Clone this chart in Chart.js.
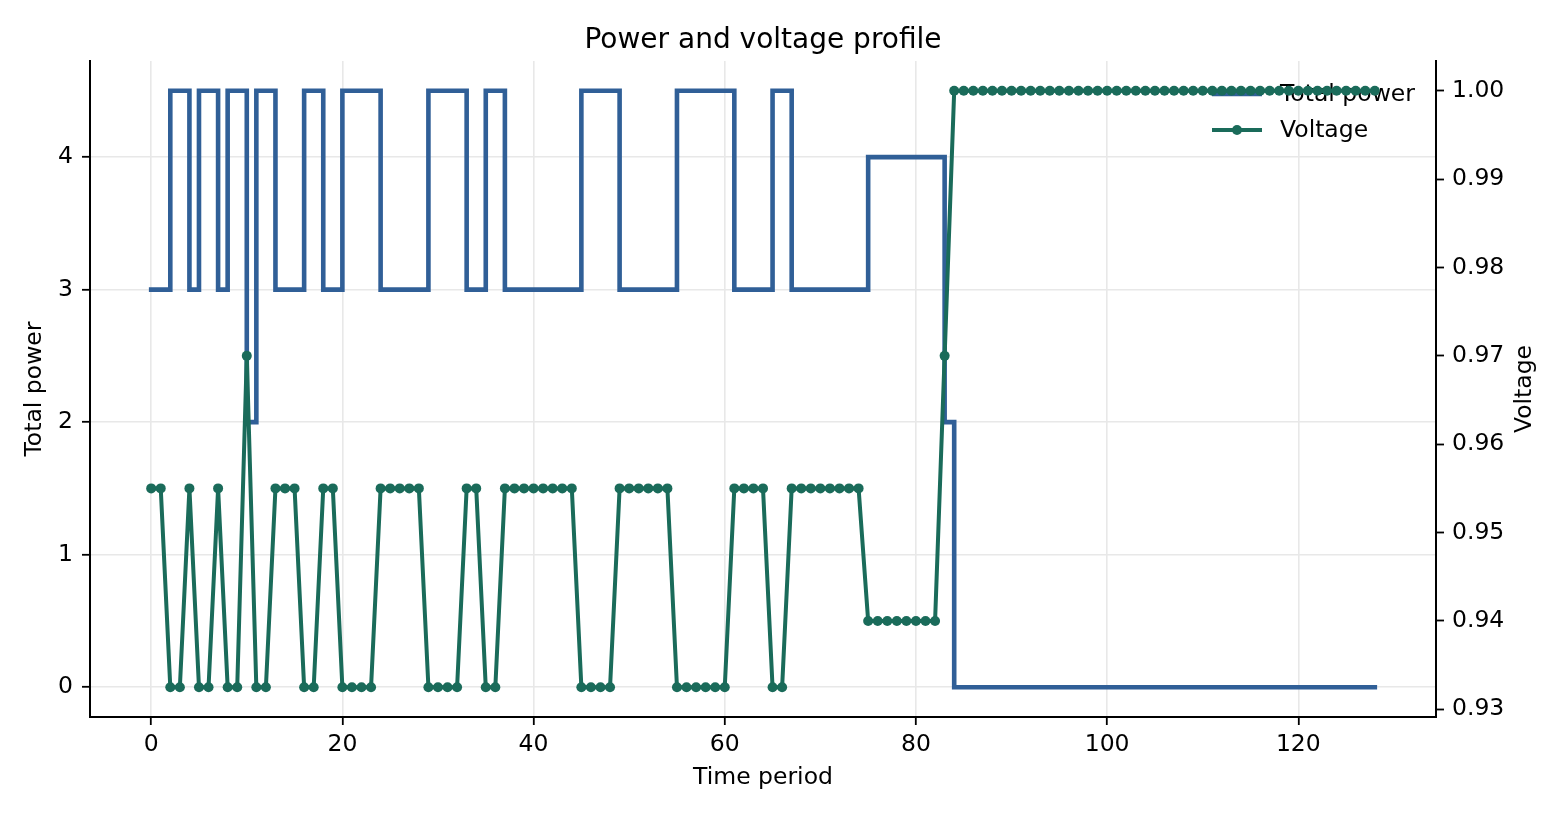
<!DOCTYPE html>
<html>
<head>
<meta charset="utf-8">
<title>Power and voltage profile</title>
<script src="https://cdn.jsdelivr.net/npm/chart.js@4.4.1/dist/chart.umd.min.js"></script>
<style>
  html, body { margin: 0; padding: 0; background: #ffffff; }
  #wrap { width: 1563px; height: 816px; }
</style>
</head>
<body>
<div id="wrap"><canvas id="chart-power-voltage" width="1563" height="816"></canvas></div>
<script>
// time periods 0..128
const periods = Array.from({ length: 129 }, (_, i) => i);

// total power per period (step line)
const totalPower = [
  3, 3, 4.5, 4.5, 3, 4.5, 4.5, 3, 4.5, 4.5,
  2, 4.5, 4.5, 3, 3, 3, 4.5, 4.5, 3, 3,
  4.5, 4.5, 4.5, 4.5, 3, 3, 3, 3, 3, 4.5,
  4.5, 4.5, 4.5, 3, 3, 4.5, 4.5, 3, 3, 3,
  3, 3, 3, 3, 3, 4.5, 4.5, 4.5, 4.5, 3,
  3, 3, 3, 3, 3, 4.5, 4.5, 4.5, 4.5, 4.5,
  4.5, 3, 3, 3, 3, 4.5, 4.5, 3, 3, 3,
  3, 3, 3, 3, 3, 4, 4, 4, 4, 4,
  4, 4, 4, 2, 0, 0, 0, 0, 0, 0,
  0, 0, 0, 0, 0, 0, 0, 0, 0, 0,
  0, 0, 0, 0, 0, 0, 0, 0, 0, 0,
  0, 0, 0, 0, 0, 0, 0, 0, 0, 0,
  0, 0, 0, 0, 0, 0, 0, 0, 0
];

// voltage per period
const voltage = [
  0.955, 0.955, 0.9325, 0.9325, 0.955, 0.9325, 0.9325, 0.955, 0.9325, 0.9325,
  0.97, 0.9325, 0.9325, 0.955, 0.955, 0.955, 0.9325, 0.9325, 0.955, 0.955,
  0.9325, 0.9325, 0.9325, 0.9325, 0.955, 0.955, 0.955, 0.955, 0.955, 0.9325,
  0.9325, 0.9325, 0.9325, 0.955, 0.955, 0.9325, 0.9325, 0.955, 0.955, 0.955,
  0.955, 0.955, 0.955, 0.955, 0.955, 0.9325, 0.9325, 0.9325, 0.9325, 0.955,
  0.955, 0.955, 0.955, 0.955, 0.955, 0.9325, 0.9325, 0.9325, 0.9325, 0.9325,
  0.9325, 0.955, 0.955, 0.955, 0.955, 0.9325, 0.9325, 0.955, 0.955, 0.955,
  0.955, 0.955, 0.955, 0.955, 0.955, 0.94, 0.94, 0.94, 0.94, 0.94,
  0.94, 0.94, 0.94, 0.97, 1, 1, 1, 1, 1, 1,
  1, 1, 1, 1, 1, 1, 1, 1, 1, 1,
  1, 1, 1, 1, 1, 1, 1, 1, 1, 1,
  1, 1, 1, 1, 1, 1, 1, 1, 1, 1,
  1, 1, 1, 1, 1, 1, 1, 1, 1
];

// tick labels
const xTicks = [0, 20, 40, 60, 80, 100, 120];
const powerTicks = [0, 1, 2, 3, 4];
const voltageTicks = [0.93, 0.94, 0.95, 0.96, 0.97, 0.98, 0.99, 1.0];

const FONT = "'DejaVu Sans', 'Liberation Sans', sans-serif";
const TICK_SIZE = 23.5;
const POWER_COLOR = "#305f97";
const VOLTAGE_COLOR = "#1a6b5a";

Chart.defaults.font.family = FONT;
Chart.defaults.color = "#000000";

// legend drawn inside the plot, under the data (like matplotlib's ax legend)
const insideLegend = {
  id: "insideLegend",
  beforeDatasetsDraw(chart) {
    const { ctx, chartArea } = chart;
    const x0 = chartArea.right - 224;
    ctx.save();
    chart.data.datasets.forEach((ds, i) => {
      const y = chartArea.top + 33 + i * 36;
      ctx.strokeStyle = ds.borderColor;
      ctx.lineWidth = ds.borderWidth;
      ctx.lineCap = "butt";
      ctx.beginPath();
      ctx.moveTo(x0, y);
      ctx.lineTo(x0 + 50, y);
      ctx.stroke();
      if (ds.pointRadius > 0) {
        ctx.fillStyle = ds.pointBackgroundColor;
        ctx.beginPath();
        ctx.arc(x0 + 25, y, ds.pointRadius, 0, Math.PI * 2);
        ctx.fill();
      }
      ctx.fillStyle = "#000000";
      ctx.font = TICK_SIZE + "px " + FONT;
      ctx.textAlign = "left";
      ctx.textBaseline = "middle";
      ctx.fillText(ds.label, x0 + 68, y + 1);
    });
    ctx.restore();
  },
};

// right axis title reads bottom-to-top like the left one
const rightTitle = {
  id: "rightTitle",
  afterDraw(chart) {
    const { ctx, chartArea } = chart;
    const scale = chart.scales.y1;
    ctx.save();
    ctx.translate(scale.right - 38, (chartArea.top + chartArea.bottom) / 2);
    ctx.rotate(-Math.PI / 2);
    ctx.fillStyle = "#000000";
    ctx.font = TICK_SIZE + "px " + FONT;
    ctx.textAlign = "center";
    ctx.textBaseline = "middle";
    ctx.fillText("Voltage", 0, 0);
    ctx.restore();
  },
};

const ctx = document.getElementById("chart-power-voltage").getContext("2d");
const chartPowerVoltage = new Chart(ctx, {
  type: "line",
  data: {
    labels: periods,
    datasets: [
      {
        label: "Total power",
        data: totalPower,
        yAxisID: "y",
        borderColor: POWER_COLOR,
        backgroundColor: POWER_COLOR,
        borderWidth: 4.6,
        stepped: "before",
        pointRadius: 0,
        pointHoverRadius: 0,
        borderCapStyle: "square",
        borderJoinStyle: "miter",
        fill: false,
        order: 2,
      },
      {
        label: "Voltage",
        data: voltage,
        yAxisID: "y1",
        borderColor: VOLTAGE_COLOR,
        backgroundColor: VOLTAGE_COLOR,
        pointBackgroundColor: VOLTAGE_COLOR,
        pointBorderWidth: 0,
        borderWidth: 4,
        pointRadius: 5,
        pointHoverRadius: 5,
        borderCapStyle: "square",
        borderJoinStyle: "round",
        tension: 0,
        fill: false,
        order: 1,
      },
    ],
  },
  options: {
    responsive: false,
    animation: false,
    devicePixelRatio: 1,
    events: [],
    layout: { padding: 0 },
    plugins: {
      legend: { display: false },
      tooltip: { enabled: false },
      title: {
        display: true,
        fullSize: false,
        text: "Power and voltage profile",
        color: "#000000",
        font: { size: 28, weight: "normal", family: FONT },
        padding: { top: 24, bottom: 3.4 },
      },
    },
    scales: {
      x: {
        type: "linear",
        min: -6.4,
        max: 134.4,
        afterBuildTicks: (scale) => {
          scale.ticks = xTicks.map((v) => ({ value: v }));
        },
        afterFit: (scale) => {
          scale.height = 99;
        },
        ticks: {
          autoSkip: false,
          maxRotation: 0,
          padding: 6,
          font: { size: TICK_SIZE },
          callback: (v) => String(v),
        },
        grid: {
          color: "#e8e8e8",
          lineWidth: 1.6,
          tickColor: "#000000",
          tickLength: 8,
          tickWidth: 1.8,
        },
        border: { display: true, color: "#000000", width: 2 },
        title: {
          display: true,
          text: "Time period",
          font: { size: TICK_SIZE },
          padding: { top: 0, bottom: 23.6 },
        },
      },
      y: {
        type: "linear",
        position: "left",
        min: -0.225,
        max: 4.725,
        afterBuildTicks: (scale) => {
          scale.ticks = powerTicks.map((v) => ({ value: v }));
        },
        afterFit: (scale) => {
          scale.width = 90;
        },
        ticks: {
          padding: 9,
          font: { size: TICK_SIZE },
          callback: (v) => String(v),
        },
        grid: {
          color: "#e8e8e8",
          lineWidth: 1.6,
          tickColor: "#000000",
          tickLength: 8,
          tickWidth: 1.8,
        },
        border: { display: true, color: "#000000", width: 2 },
        title: {
          display: true,
          text: "Total power",
          font: { size: TICK_SIZE },
          padding: { top: 20.6, bottom: 0 },
        },
      },
      y1: {
        type: "linear",
        position: "right",
        min: 0.929125,
        max: 1.003375,
        afterBuildTicks: (scale) => {
          scale.ticks = voltageTicks.map((v) => ({ value: v }));
        },
        afterFit: (scale) => {
          scale.width = 127;
        },
        ticks: {
          padding: 8,
          font: { size: TICK_SIZE },
          callback: (v) => Number(v).toFixed(2),
        },
        grid: {
          drawOnChartArea: false,
          tickColor: "#000000",
          tickLength: 8,
          tickWidth: 1.8,
        },
        border: { display: true, color: "#000000", width: 2 },
        title: { display: false },
      },
    },
  },
  plugins: [insideLegend, rightTitle],
});
</script>
</body>
</html>
